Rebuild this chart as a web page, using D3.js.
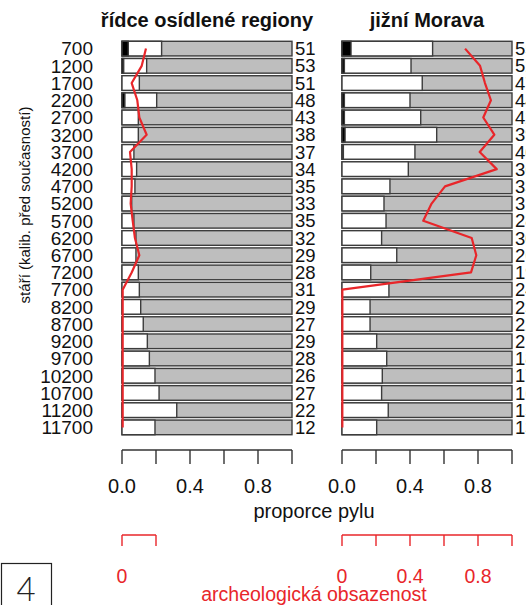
<!DOCTYPE html>
<html>
<head>
<meta charset="utf-8">
<script src="https://cdn.jsdelivr.net/npm/d3@7"></script>
<style>
  body { margin: 0; background: #fff; }
  text { font-family: "Liberation Sans", Arial, sans-serif; }
</style>
</head>
<body>
<div id="chart"></div>
<script>

////////////////////////////////////////////////////////////////////////
// Data

let ages = [700, 1200, 1700, 2200, 2700, 3200, 3700, 4200, 4700, 5200, 5700, 6200,
  6700, 7200, 7700, 8200, 8700, 9200, 9700, 10200, 10700, 11200, 11700];

// řídce osídlené regiony
let sparseBlack = [0.037, 0.010, 0, 0.017, 0, 0, 0, 0, 0, 0, 0, 0,
  0, 0, 0, 0, 0, 0, 0, 0, 0, 0, 0];
let sparseWhite = [0.196, 0.135, 0.102, 0.187, 0.096, 0.096, 0.070, 0.086, 0.076, 0.057, 0.070, 0.082,
  0.082, 0.096, 0.102, 0.110, 0.125, 0.149, 0.161, 0.194, 0.218, 0.322, 0.194];
let sparseArch = [0.141, 0.116, 0.057, 0.090, 0.102, 0.145, 0.047, 0.057, 0.057, 0.051, 0.063, 0.076,
  0.102, 0.057, 0.004, 0.004, 0.004, 0.004, 0.004, 0.004, 0.004, 0.004, 0.004];
let sparseCounts = [51, 53, 51, 48, 43, 38, 37, 34, 35, 33, 35, 32,
  29, 28, 31, 29, 27, 29, 28, 26, 27, 22, 12];

// jižní Morava
let moravaBlack = [0.053, 0.014, 0, 0.014, 0.014, 0.018, 0.008, 0, 0, 0, 0, 0,
  0, 0, 0, 0, 0, 0, 0, 0, 0, 0, 0];
let moravaWhite = [0.480, 0.392, 0.472, 0.386, 0.449, 0.539, 0.421, 0.390, 0.282, 0.247, 0.259, 0.233,
  0.322, 0.169, 0.276, 0.165, 0.165, 0.204, 0.263, 0.237, 0.233, 0.272, 0.204];
let moravaArch = [0.724, 0.812, 0.841, 0.876, 0.831, 0.896, 0.810, 0.910, 0.606, 0.527, 0.478, 0.763,
  0.790, 0.759, 0.002, 0.002, 0.002, 0.002, 0.002, 0.002, 0.002, 0.002, 0.002];
// only the first digit is visible in the figure (cut at the right edge)
let moravaCounts = [55, 52, 47, 44, 42, 39, 40, 36, 33, 31, 28, 30,
  26, 19, 24, 23, 22, 21, 18, 17, 16, 15, 13];

let panelTitles = ["řídce osídlené regiony", "jižní Morava"];
let pollenTicks = [0, 0.2, 0.4, 0.6, 0.8, 1.0];
let pollenLabels = [0, 0.4, 0.8];
let archTicks = [[0, 0.2], [0, 0.2, 0.4, 0.6, 0.8, 1.0]];
let archLabels = [[0], [0, 0.4, 0.8]];

////////////////////////////////////////////////////////////////////////
// svg + scales

let width = 526;
let height = 605;

let svg = d3.select("#chart")
  .append("svg")
  .attr("width", width).attr("height", height);

let red = "#e8262a";
let barStroke = "#3c3c3c";

let yScale = d3.scaleBand()
  .domain(ages)
  .range([40, 436])
  .paddingInner(0.15)
  .paddingOuter(0.075);

let panels = [
  { x0: 122, black: sparseBlack, white: sparseWhite, arch: sparseArch, counts: sparseCounts },
  { x0: 342, black: moravaBlack, white: moravaWhite, arch: moravaArch, counts: moravaCounts }
];

panels.forEach(function(p, i) {
  p.xScale = d3.scaleLinear().domain([0, 1]).range([p.x0, p.x0 + 170]);
  p.rows = ages.map(function(a, k) {
    return { age: a, b: p.black[k], w: p.white[k], arch: p.arch[k], n: p.counts[k] };
  });

  let g = svg.append("g").attr("class", "panel");

  // title
  g.append("text")
    .attr("x", p.xScale(0.5))
    .attr("y", 27)
    .attr("text-anchor", "middle")
    .style("font-weight", "bold")
    .style("font-size", "20px")
    .style("fill", "#111")
    .text(panelTitles[i]);

  let rows = g.selectAll(".row")
    .data(p.rows)
    .enter()
    .append("g")
    .attr("class", "row")
    .attr("transform", function(d) { return "translate(0," + yScale(d.age) + ")"; });

  // gray part (whole bar), then white, then black on top
  rows.append("rect")
    .attr("x", p.xScale(0))
    .attr("width", p.xScale(1) - p.xScale(0))
    .attr("height", yScale.bandwidth())
    .style("fill", "#bebebe")
    .style("stroke", barStroke)
    .style("stroke-width", 1.4);

  rows.append("rect")
    .attr("x", p.xScale(0))
    .attr("width", function(d) { return p.xScale(d.b + d.w) - p.xScale(0); })
    .attr("height", yScale.bandwidth())
    .style("fill", "#fff")
    .style("stroke", barStroke)
    .style("stroke-width", 1.4);

  rows.filter(function(d) { return d.b > 0; })
    .append("rect")
    .attr("x", p.xScale(0))
    .attr("width", function(d) { return p.xScale(d.b) - p.xScale(0); })
    .attr("height", yScale.bandwidth())
    .style("fill", "#000")
    .style("stroke", barStroke)
    .style("stroke-width", 1.4);

  // counts to the right of each bar
  rows.append("text")
    .attr("x", p.xScale(1) + 3)
    .attr("y", yScale.bandwidth() / 2)
    .attr("dy", "0.36em")
    .style("font-size", "18.5px")
    .style("fill", "#111")
    .text(function(d) { return d.n; });

  // archaeological occupancy line
  g.append("path")
    .datum(p.rows)
    .attr("d", d3.line()
      .x(function(d) { return p.xScale(d.arch); })
      .y(function(d) { return yScale(d.age) + yScale.bandwidth() / 2; }))
    .style("fill", "none")
    .style("stroke", red)
    .style("stroke-width", 2.2)
    .style("stroke-linejoin", "round");

  // pollen axis (black)
  let ax = g.append("g").attr("transform", "translate(0,450)");
  ax.append("line")
    .attr("x1", p.xScale(0)).attr("x2", p.xScale(1))
    .style("stroke", "#333").style("stroke-width", 1.4);
  ax.selectAll(".tick")
    .data(pollenTicks).enter()
    .append("line")
    .attr("x1", function(d) { return p.xScale(d); })
    .attr("x2", function(d) { return p.xScale(d); })
    .attr("y2", 14)
    .style("stroke", "#333").style("stroke-width", 1.4);
  ax.selectAll(".lab")
    .data(pollenLabels).enter()
    .append("text")
    .attr("x", function(d) { return p.xScale(d); })
    .attr("y", 43)
    .attr("text-anchor", "middle")
    .style("font-size", "20px")
    .style("fill", "#111")
    .text(function(d) { return d3.format(".1f")(d); });

  // archaeology axis (red)
  let rx = g.append("g").attr("transform", "translate(0,535)");
  let rt = archTicks[i];
  rx.append("line")
    .attr("x1", p.xScale(rt[0])).attr("x2", p.xScale(rt[rt.length - 1]))
    .style("stroke", red).style("stroke-width", 1.4);
  rx.selectAll(".tick")
    .data(rt).enter()
    .append("line")
    .attr("x1", function(d) { return p.xScale(d); })
    .attr("x2", function(d) { return p.xScale(d); })
    .attr("y2", 11)
    .style("stroke", red).style("stroke-width", 1.4);
  rx.selectAll(".lab")
    .data(archLabels[i]).enter()
    .append("text")
    .attr("x", function(d) { return p.xScale(d); })
    .attr("y", 48)
    .attr("text-anchor", "middle")
    .style("font-size", "19.5px")
    .style("fill", red)
    .text(function(d) { return d === 0 ? "0" : d3.format(".1f")(d); });
});

// age labels on the left
svg.selectAll(".agelab")
  .data(ages).enter()
  .append("text")
  .attr("class", "agelab")
  .attr("x", 93)
  .attr("y", function(d) { return yScale(d) + yScale.bandwidth() / 2; })
  .attr("dy", "0.36em")
  .attr("text-anchor", "end")
  .style("font-size", "19px")
  .style("fill", "#111")
  .text(function(d) { return d; });

// axis titles
svg.append("text")
  .attr("transform", "translate(30,205) rotate(-90)")
  .attr("text-anchor", "middle")
  .style("font-size", "15px")
  .style("fill", "#111")
  .text("stáří (kalib. před současností)");

svg.append("text")
  .attr("x", 314).attr("y", 518)
  .attr("text-anchor", "middle")
  .style("font-size", "20px")
  .style("fill", "#111")
  .text("proporce pylu");

svg.append("text")
  .attr("x", 314).attr("y", 601)
  .attr("text-anchor", "middle")
  .style("font-size", "19.5px")
  .style("fill", red)
  .text("archeologická obsazenost");

// figure number box
svg.append("rect")
  .attr("x", 1.5).attr("y", 563.5)
  .attr("width", 50).attr("height", 45)
  .style("fill", "#fff").style("stroke", "#222").style("stroke-width", 1.2);
svg.append("text")
  .attr("x", 26).attr("y", 601)
  .attr("text-anchor", "middle")
  .style("font-family", "Lato, 'DejaVu Sans', sans-serif")
  .style("font-weight", 300)
  .style("font-size", "33px")
  .style("fill", "#222")
  .text("4");

</script>
</body>
</html>
